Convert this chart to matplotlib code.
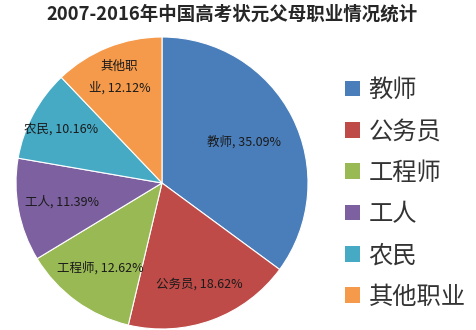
import numpy as np
import matplotlib
matplotlib.use("Agg")
import matplotlib.pyplot as plt

plt.rcParams['font.family'] = ['Noto Sans CJK SC', 'DejaVu Sans']

title = "2007-2016年中国高考状元父母职业情况统计"
categories = ["教师", "公务员", "工程师", "工人", "农民", "其他职业"]
shares = [35.09, 18.62, 12.62, 11.39, 10.16, 12.12]
slice_labels = ["教师, 35.09%", "公务员, 18.62%", "工程师, 12.62%",
                "工人, 11.39%", "农民, 10.16%", "其他职\n业, 12.12%"]
colors = ["#4A7EBB", "#BE4B48", "#98B954", "#7D60A0", "#46AAC5", "#F59A4A"]
# radial position of each in-slice label, as a fraction of the radius
label_radius = [0.63, 0.74, 0.72, 0.70, 0.78, 0.78]

W, H = 476, 330
fig = plt.figure(figsize=(W / 100, H / 100), dpi=100)
fig.patch.set_facecolor("white")

cx, cy, r = 162, 183, 146
ax = fig.add_axes([(cx - r) / W, 1 - (cy + r) / H, 2 * r / W, 2 * r / H])
wedges, _ = ax.pie(shares, colors=colors, startangle=90, counterclock=False,
                   radius=1.0,
                   wedgeprops=dict(edgecolor="white", linewidth=0.8))
ax.set_xlim(-1, 1)
ax.set_ylim(-1, 1)
ax.set_aspect("equal")
ax.axis("off")
for w in wedges:
    w.set_clip_on(False)

for w, txt, rf in zip(wedges, slice_labels, label_radius):
    mid = np.deg2rad((w.theta1 + w.theta2) / 2)
    ax.text(rf * np.cos(mid), rf * np.sin(mid), txt, ha="center", va="center",
            fontsize=9, color="#1a1a1a", linespacing=1.8)

fig.text(232 / W, 1 - 14 / H, title, ha="center", va="center",
         fontsize=13.3, fontweight="bold", color="#262626")

leg = fig.legend(wedges, categories, loc="upper left",
                 bbox_to_anchor=(345 / W, 1 - 77 / H), frameon=False,
                 fontsize=17.5, handlelength=0.62, handleheight=0.62,
                 handletextpad=0.35, labelspacing=0.63, borderaxespad=0,
                 borderpad=0)
for t in leg.get_texts():
    t.set_color("#333333")
for h in leg.legend_handles:
    h.set_edgecolor("none")

fig.savefig("out.png", dpi=100, facecolor="white")
